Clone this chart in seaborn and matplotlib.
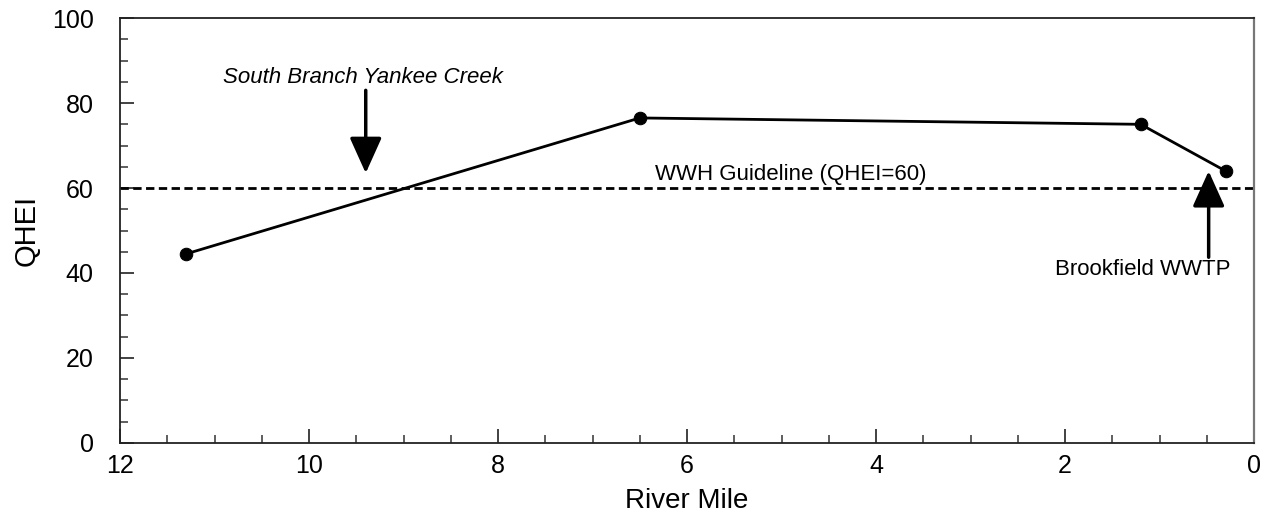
import matplotlib
matplotlib.use("Agg")
import matplotlib.pyplot as plt
import seaborn as sns
import pandas as pd
from matplotlib.ticker import MultipleLocator

# QHEI scores by river mile
river_mile = [11.3, 6.5, 1.2, 0.3]
qhei = [44.5, 76.5, 75.0, 64.0]

guideline = 60
x_ticks = [12, 10, 8, 6, 4, 2, 0]
y_ticks = [0, 20, 40, 60, 80, 100]

sns.set_theme(style="white")
plt.rcParams["font.family"] = ["Liberation Sans", "DejaVu Sans"]
plt.rcParams.update({"text.color": "black", "axes.labelcolor": "black",
                     "xtick.color": "black", "ytick.color": "black"})

fig, ax = plt.subplots(figsize=(12.77, 5.18), dpi=100)
fig.subplots_adjust(left=0.094, right=0.982, top=0.965, bottom=0.145)

df = pd.DataFrame({"River Mile": river_mile, "QHEI": qhei})
sns.lineplot(data=df, x="River Mile", y="QHEI", ax=ax, color="black",
             linewidth=2.0, marker="o", markersize=9, markeredgecolor="black",
             markerfacecolor="black", sort=False)

ax.axhline(guideline, color="black", linewidth=2.0, linestyle=(0, (3, 1.6)))
ax.text(4.9, guideline + 0.6, "WWH Guideline (QHEI=60)", ha="center", va="bottom",
        fontsize=16)

arrow_kw = dict(arrowstyle="-|>,head_length=1.0,head_width=0.45", color="black",
                lw=2.5, mutation_scale=22, shrinkA=0, shrinkB=0)
ax.annotate("", xy=(9.4, 63.5), xytext=(9.4, 83.0), arrowprops=arrow_kw)
ax.text(9.43, 86.0, "South Branch Yankee Creek", ha="center", va="center",
        fontsize=16, style="italic")
ax.annotate("", xy=(0.48, 64.0), xytext=(0.48, 43.7), arrowprops=arrow_kw)
ax.text(1.18, 40.8, "Brookfield WWTP", ha="center", va="center", fontsize=16)

ax.set_xlim(12, 0)
ax.set_ylim(0, 100)
ax.set_xticks(x_ticks)
ax.set_yticks(y_ticks)
ax.xaxis.set_minor_locator(MultipleLocator(0.5))
ax.yaxis.set_minor_locator(MultipleLocator(5))
ax.tick_params(which="major", direction="in", length=10, width=1.3, colors="#333333",
               labelcolor="black", labelsize=18, bottom=True, left=True, top=False, right=False)
ax.tick_params(which="minor", direction="in", length=6, width=1.1, colors="#333333",
               bottom=True, left=True, top=False, right=False)
ax.tick_params(axis="x", pad=8)
ax.tick_params(axis="y", pad=19)

ax.set_xlabel("River Mile", fontsize=20, labelpad=7)
ax.set_ylabel("QHEI", fontsize=21, labelpad=8)

for side in ["left", "bottom", "top"]:
    ax.spines[side].set_color("#222222")
    ax.spines[side].set_linewidth(1.3)
ax.spines["right"].set_color("#777777")
ax.spines["right"].set_linewidth(1.6)

fig.savefig("out.png", dpi=100, facecolor="white")
